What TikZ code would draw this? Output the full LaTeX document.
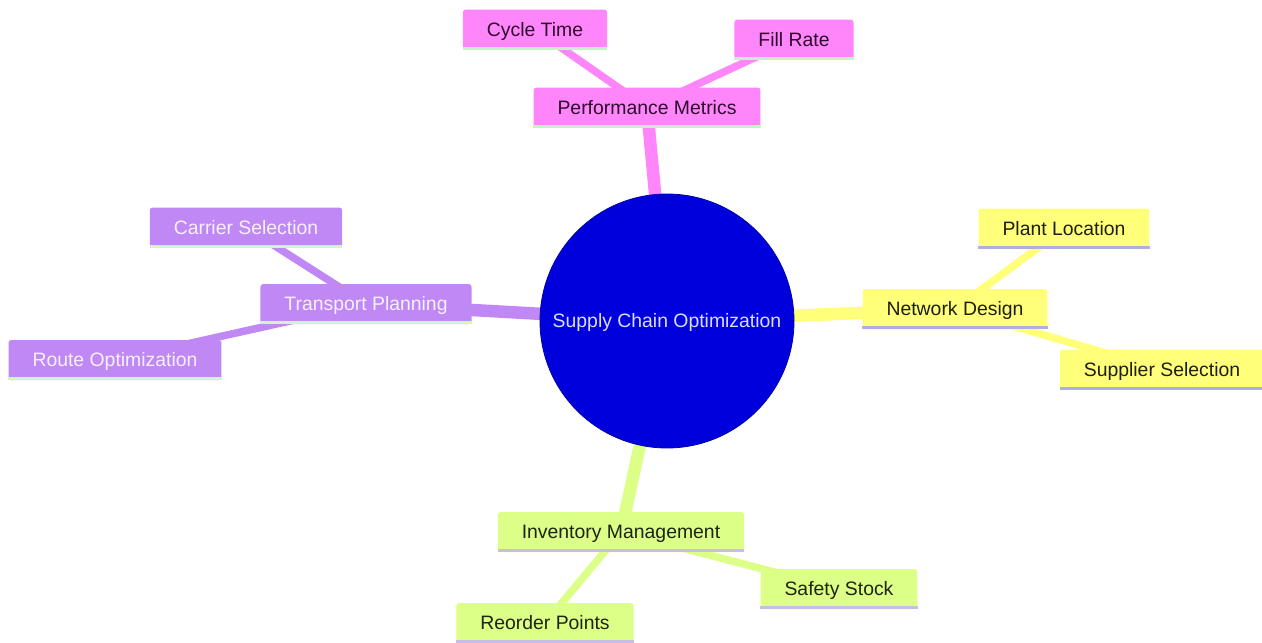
\documentclass[tikz,border=0pt]{standalone}
\usepackage{fontspec}
\setmainfont{Liberation Sans}
\usetikzlibrary{backgrounds}
\definecolor{pinkf}{HTML}{FF86FA}
\definecolor{purpf}{HTML}{C088F4}
\definecolor{yelf}{HTML}{FFFF7A}
\definecolor{grnf}{HTML}{DCFF88}
\definecolor{centf}{HTML}{0000DD}
\definecolor{centd}{HTML}{0000A8}
\definecolor{centt}{HTML}{DCDCFF}
\definecolor{pinkt}{HTML}{2E0A2E}
\definecolor{purpt}{HTML}{F6F0FF}
\definecolor{yelt}{HTML}{1E1E10}
\definecolor{grnt}{HTML}{1E2410}
\definecolor{pinkln}{HTML}{C6F2C6}
\definecolor{purpln}{HTML}{D8F2C8}
\definecolor{yelln}{HTML}{AEAEE6}
\definecolor{grnln}{HTML}{C8BCE8}
\begin{document}
\begin{tikzpicture}[x=1pt,y=-1pt,
  box/.style={rectangle, rounded corners=3pt, minimum height=40pt, inner xsep=24pt, inner ysep=0pt, text height=13.6pt, text depth=0pt, font=\fontsize{19.4}{23}\selectfont},
  pinkbox/.style={box, fill=pinkf, text=pinkt},
  purpbox/.style={box, fill=purpf, text=purpt},
  yelbox/.style={box, fill=yelf, text=yelt},
  grnbox/.style={box, fill=grnf, text=grnt},
  mainedge/.style={line width=12.5pt},
  subedge/.style={line width=7.5pt}]
\useasboundingbox (0,0) rectangle (1262,643);

\node[circle, fill=centf, draw=centd, line width=0.8pt, minimum size=254pt, inner sep=0pt, text=centt, text height=13.6pt, text depth=0pt, font=\fontsize{19.4}{23}\selectfont] (c) at (667,321) {Supply Chain Optimization};

\node[pinkbox] (pm) at (647,107.5) {Performance Metrics};
\node[pinkbox] (ct) at (535,29.5) {Cycle Time};
\node[pinkbox] (fr) at (794,39.5) {Fill Rate};

\node[purpbox] (tp) at (366,304) {Transport Planning};
\node[purpbox] (cs) at (246,227.5) {Carrier Selection};
\node[purpbox] (ro) at (115,360) {Route Optimization};

\node[yelbox] (nd) at (955,309) {Network Design};
\node[yelbox] (pl) at (1064,228.5) {Plant Location};
\node[yelbox] (ss) at (1162,369.5) {Supplier Selection};

\node[grnbox] (im) at (621,532) {Inventory Management};
\node[grnbox] (sf) at (839,589) {Safety Stock};
\node[grnbox] (rp) at (545,623) {Reorder Points};

\foreach \n/\col in {pm/pinkln, ct/pinkln, fr/pinkln, tp/purpln, cs/purpln, ro/purpln, nd/yelln, pl/yelln, ss/yelln, im/grnln, sf/grnln, rp/grnln}
  \draw[\col, line width=3pt] ([yshift=1.5pt]\n.south west) -- ([yshift=1.5pt]\n.south east);

\begin{scope}[on background layer]
  \draw[pinkf, mainedge] (c.center) -- (pm.center);
  \draw[pinkf, subedge] (pm.center) -- (ct.center);
  \draw[pinkf, subedge] (pm.center) -- (fr.center);
  \draw[purpf, mainedge] (c.center) -- (tp.center);
  \draw[purpf, subedge] (tp.center) -- (cs.center);
  \draw[purpf, subedge] (tp.center) -- (ro.center);
  \draw[yelf, mainedge] (c.center) -- (nd.center);
  \draw[yelf, subedge] (nd.center) -- (pl.center);
  \draw[yelf, subedge] (nd.center) -- (ss.center);
  \draw[grnf, mainedge] (c.center) -- (im.center);
  \draw[grnf, subedge] (im.center) -- (sf.center);
  \draw[grnf, subedge] (im.center) -- (rp.center);
\end{scope}
\end{tikzpicture}
\end{document}
